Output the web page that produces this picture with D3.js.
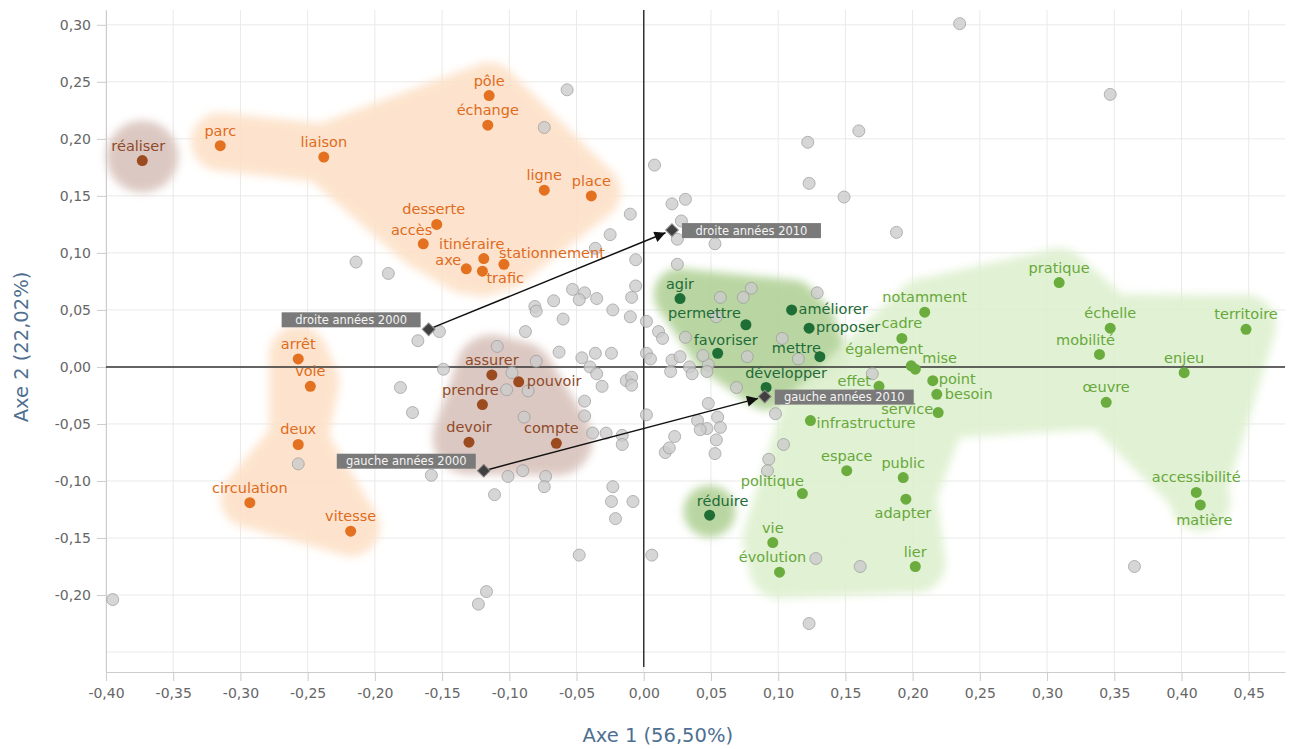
<!DOCTYPE html>
<html>
<head>
<meta charset="utf-8">
<script src="https://cdn.jsdelivr.net/npm/d3@7"></script>
<style>
body { margin: 0; background: #fff; }
svg text { font-family: "DejaVu Sans", sans-serif; }
</style>
</head>
<body>
<svg id="chart"></svg>
<script>
// ---- DONNEES ----
var xTicks = [-0.40, -0.35, -0.30, -0.25, -0.20, -0.15, -0.10, -0.05, 0.00, 0.05, 0.10, 0.15, 0.20, 0.25, 0.30, 0.35, 0.40, 0.45];
var yTicks = [-0.20, -0.15, -0.10, -0.05, 0.00, 0.05, 0.10, 0.15, 0.20, 0.25, 0.30];
var yGrid = [-0.25, -0.20, -0.15, -0.10, -0.05, 0.00, 0.05, 0.10, 0.15, 0.20, 0.25, 0.30];
var axe1Titre = 'Axe 1 (56,50%)';
var axe2Titre = 'Axe 2 (22,02%)';

// classe orange
var orangeMots = ['parc', 'liaison', 'pôle', 'échange', 'ligne', 'place', 'desserte', 'accès', 'itinéraire', 'stationnement', 'axe', 'trafic', 'arrêt', 'voie', 'deux', 'circulation', 'vitesse'];
var orangeX = [-0.315, -0.238, -0.115, -0.116, -0.074, -0.039, -0.154, -0.164, -0.119, -0.104, -0.132, -0.120, -0.257, -0.248, -0.257, -0.293, -0.218];
var orangeY = [0.194, 0.184, 0.238, 0.212, 0.155, 0.150, 0.125, 0.108, 0.095, 0.090, 0.086, 0.084, 0.007, -0.017, -0.068, -0.119, -0.144];

// classe marron
var marronMots = ['réaliser', 'assurer', 'pouvoir', 'prendre', 'devoir', 'compte'];
var marronX = [-0.373, -0.113, -0.093, -0.120, -0.130, -0.065];
var marronY = [0.181, -0.007, -0.013, -0.033, -0.066, -0.067];

// classe vert foncé
var vertFonceMots = ['agir', 'permettre', 'améliorer', 'proposer', 'favoriser', 'mettre', 'développer', 'réduire'];
var vertFonceX = [0.027, 0.076, 0.110, 0.123, 0.055, 0.131, 0.091, 0.049];
var vertFonceY = [0.060, 0.037, 0.050, 0.034, 0.012, 0.009, -0.018, -0.130];

// classe vert clair
var vertClairMots = ['notamment', 'cadre', 'également', 'mise', 'effet', 'point', 'besoin', 'service', 'infrastructure', 'pratique', 'échelle', 'mobilité', 'territoire', 'enjeu', 'œuvre', 'espace', 'politique', 'vie', 'évolution', 'public', 'adapter', 'lier', 'accessibilité', 'matière'];
var vertClairX = [0.209, 0.192, 0.199, 0.202, 0.175, 0.215, 0.218, 0.219, 0.124, 0.309, 0.347, 0.339, 0.448, 0.402, 0.344, 0.151, 0.118, 0.096, 0.101, 0.193, 0.195, 0.202, 0.411, 0.414];
var vertClairY = [0.048, 0.025, 0.001, -0.002, -0.017, -0.012, -0.024, -0.040, -0.047, 0.074, 0.034, 0.011, 0.033, -0.005, -0.031, -0.091, -0.111, -0.154, -0.180, -0.097, -0.116, -0.175, -0.110, -0.121];

// autres formes (gris, sans étiquette)
var grisX = [0.235, 0.347, 0.160, 0.149, 0.188, -0.057, -0.074, 0.008, 0.122, 0.123, 0.021, 0.031, 0.028, 0.025, 0.053, -0.010, -0.025, -0.036, -0.006, 0.025, -0.214, -0.190, -0.168, -0.152, -0.109, -0.149, -0.098, -0.181, -0.172, -0.102, -0.086, -0.053, -0.044, -0.048, -0.035, -0.067, -0.081, -0.080, -0.060, -0.023, -0.006, -0.009, -0.010, 0.002, -0.088, 0.011, 0.014, 0.031, 0.057, 0.074, 0.080, 0.129, 0.054, 0.103, 0.077, 0.115, -0.063, -0.046, -0.036, -0.024, 0.002, 0.005, 0.021, 0.027, 0.034, 0.048, 0.044, 0.020, 0.036, -0.040, -0.080, -0.035, -0.031, -0.013, -0.009, -0.009, 0.069, -0.044, -0.044, -0.089, 0.048, 0.002, 0.040, 0.055, 0.057, 0.047, 0.042, 0.054, -0.038, -0.028, -0.016, -0.016, 0.023, 0.016, 0.019, 0.053, 0.098, 0.104, 0.093, 0.092, -0.158, -0.101, -0.090, -0.073, -0.074, -0.111, -0.023, -0.024, -0.008, -0.021, -0.048, 0.006, 0.128, 0.161, -0.117, -0.123, 0.123, -0.395, -0.257, 0.365, 0.170, 0.047];
var grisY = [0.301, 0.239, 0.207, 0.149, 0.118, 0.243, 0.210, 0.177, 0.197, 0.161, 0.143, 0.147, 0.128, 0.112, 0.108, 0.134, 0.116, 0.104, 0.094, 0.090, 0.092, 0.082, 0.023, 0.031, 0.018, -0.002, -0.005, -0.018, -0.040, -0.020, -0.021, 0.068, 0.065, 0.059, 0.060, 0.058, 0.053, 0.049, 0.042, 0.050, 0.071, 0.061, 0.044, 0.040, 0.031, 0.031, 0.025, 0.026, 0.061, 0.061, 0.069, 0.065, 0.044, 0.025, 0.009, 0.007, 0.013, 0.008, 0.012, 0.012, 0.012, 0.007, 0.006, 0.009, 0.000, 0.002, 0.010, -0.004, -0.006, 0.000, 0.005, -0.006, -0.017, -0.012, -0.009, -0.016, -0.018, -0.030, -0.043, -0.044, -0.032, -0.042, -0.047, -0.044, -0.053, -0.054, -0.055, -0.064, -0.058, -0.058, -0.060, -0.068, -0.061, -0.075, -0.071, -0.076, -0.041, -0.068, -0.081, -0.091, -0.095, -0.096, -0.091, -0.096, -0.105, -0.112, -0.105, -0.118, -0.118, -0.133, -0.165, -0.165, -0.168, -0.175, -0.197, -0.208, -0.225, -0.204, -0.085, -0.175, -0.006, -0.004];

// variables supplémentaires
var suppLabels = ['droite années 2000', 'droite années 2010', 'gauche années 2000', 'gauche années 2010'];
var suppX = [-0.160, 0.021, -0.119, 0.090];
var suppY = [0.033, 0.120, -0.091, -0.026];
var fleches = [['droite années 2000', 'droite années 2010'], ['gauche années 2000', 'gauche années 2010']];

// ---- STYLE / MISE EN PAGE ----
var W = 1291, H = 749;
// alpha : longueur max d'un lien de la zone, ky : poids du vertical dans cette longueur
var classes = [
    { mots: orangeMots, xs: orangeX, ys: orangeY, dot: '#e3711f', text: '#e06b1c', hull: '#fde1c8', alpha: 186, ky: 1.3, pad: 29 },
    { mots: marronMots, xs: marronX, ys: marronY, dot: '#9c4b20', text: '#904a2a', hull: '#d9c3bc', alpha: 140, ky: 1, pad: 36 },
    { mots: vertFonceMots, xs: vertFonceX, ys: vertFonceY, dot: '#1f6e36', text: '#1f6b37', hull: '#b2d298', alpha: 120, ky: 1, pad: 26 },
    { mots: vertClairMots, xs: vertClairX, ys: vertClairY, dot: '#6aac3e', text: '#67a83b', hull: '#def0cf', alpha: 172, ky: 1, pad: 30 }
];

// position des étiquettes : [ancre, dx, dy] (par défaut centrée au-dessus)
var labelPos = {
    'réaliser': ['middle', -4, -10], 'desserte': ['middle', -3, -10],
    'accès': ['end', 9, -9], 'itinéraire': ['middle', -12, -10], 'stationnement': ['start', -5, -6],
    'axe': ['end', -5, -4], 'trafic': ['start', 4, 12],
    'pouvoir': ['start', 8, 4], 'prendre': ['middle', -12, -10], 'compte': ['middle', -5, -10],
    'permettre': ['end', -5, -7], 'améliorer': ['start', 7, 4], 'proposer': ['start', 7, 4],
    'favoriser': ['middle', 8, -8], 'mettre': ['end', 1, -4], 'développer': ['middle', 20, -9],
    'réduire': ['middle', 13, -9], 'également': ['middle', -27, -12], 'mise': ['start', 7, -6],
    'effet': ['end', -8, 0], 'point': ['start', 6, 3], 'besoin': ['start', 8, 5],
    'service': ['end', -5, 1], 'infrastructure': ['start', 6, 7], 'mobilité': ['middle', -14, -9],
    'politique': ['middle', -30, -8], 'évolution': ['middle', -7, -10],
    'adapter': ['middle', -3, 19], 'matière': ['middle', 4, 20]
};
var suppSide = { 'droite années 2000': 'left', 'droite années 2010': 'right', 'gauche années 2000': 'left', 'gauche années 2010': 'right' };

var fr = d3.formatLocale({ decimal: ',', thousands: ' ', grouping: [3], currency: ['', ' €'], minus: '-' });
var fmt = fr.format('.2f');

var svg = d3.select('#chart').attr('width', W).attr('height', H);
svg.append('rect').attr('width', W).attr('height', H).attr('fill', '#fff');

var x = d3.scaleLinear().domain([-0.40, 0.477]).range([106, 1285]);
var y = d3.scaleLinear().domain([-0.2675, 0.313]).range([672, 10]);

var defs = svg.append('defs');
defs.append('filter').attr('id', 'flou').attr('x', '-20%').attr('y', '-20%').attr('width', '140%').attr('height', '140%')
    .append('feGaussianBlur').attr('stdDeviation', 4.5);
defs.append('marker').attr('id', 'fleche').attr('viewBox', '0 -5 10 10')
    .attr('refX', 10).attr('refY', 0).attr('markerWidth', 13).attr('markerHeight', 11)
    .attr('markerUnits', 'userSpaceOnUse').attr('orient', 'auto')
    .append('path').attr('d', 'M0,-5L10,0L0,5Z').attr('fill', '#111');

// GRILLE
var grille = svg.append('g');
grille.selectAll('.gx').data(xTicks).enter().append('line')
    .attr('x1', function (d) { return x(d); }).attr('x2', function (d) { return x(d); })
    .attr('y1', 10).attr('y2', 672).attr('stroke', '#e9e9e9');
grille.selectAll('.gy').data(yGrid).enter().append('line')
    .attr('x1', 106).attr('x2', 1285)
    .attr('y1', function (d) { return y(d); }).attr('y2', function (d) { return y(d); })
    .attr('stroke', '#e9e9e9');

// ZONES (enveloppes floues autour de chaque classe)
function dist(a, b) { return Math.hypot(a[0] - b[0], a[1] - b[1]); }
var zones = svg.append('g');
classes.forEach(function (c) {
    var g = zones.append('g').attr('filter', 'url(#flou)').attr('opacity', 0.9);
    var pix = c.xs.map(function (v, i) { return [x(v), y(c.ys[i]) - 4]; });
    pix.forEach(function (p) {
        g.append('circle').attr('cx', p[0]).attr('cy', p[1]).attr('r', c.pad).attr('fill', c.hull);
    });
    var del = d3.Delaunay.from(pix);
    var t = del.triangles;
    for (var i = 0; i < t.length; i += 3) {
        var a = pix[t[i]], b = pix[t[i + 1]], e = pix[t[i + 2]];
        var cotes = [[a, b], [b, e], [e, a]];
        var ok = true;
        cotes.forEach(function (s) {
            var l = Math.hypot(s[0][0] - s[1][0], c.ky * (s[0][1] - s[1][1]));
            if (l < c.alpha) {
                g.append('line').attr('x1', s[0][0]).attr('y1', s[0][1]).attr('x2', s[1][0]).attr('y2', s[1][1])
                    .attr('stroke', c.hull).attr('stroke-width', c.pad * 2).attr('stroke-linecap', 'round');
            } else { ok = false; }
        });
        if (ok) {
            g.append('path').attr('d', 'M' + a + 'L' + b + 'L' + e + 'Z').attr('fill', c.hull);
        }
    }
});

// AXES
var axeX = svg.append('g').attr('transform', 'translate(0,672)')
    .call(d3.axisBottom(x).tickValues(xTicks).tickFormat(fmt).tickSize(9).tickSizeOuter(0).tickPadding(7));
var axeY = svg.append('g').attr('transform', 'translate(106,0)')
    .call(d3.axisLeft(y).tickValues(yTicks).tickFormat(fmt).tickSize(9).tickSizeOuter(0).tickPadding(6));
[axeX, axeY].forEach(function (a) {
    a.select('.domain').attr('stroke', '#cccccc');
    a.selectAll('.tick line').attr('stroke', '#cccccc');
    a.selectAll('.tick text').attr('fill', '#666').attr('font-size', '14px')
        .attr('font-family', '"DejaVu Sans", sans-serif');
});

// AXES ZERO
svg.append('line').attr('x1', 106).attr('x2', 1285).attr('y1', y(0)).attr('y2', y(0))
    .attr('stroke', '#333').attr('stroke-width', 1.5);
svg.append('line').attr('x1', x(0)).attr('x2', x(0)).attr('y1', 10).attr('y2', 667)
    .attr('stroke', '#333').attr('stroke-width', 1.5);

// TITRES
svg.append('text').attr('x', x(0) + 14).attr('y', 742).attr('text-anchor', 'middle')
    .attr('font-size', '19.5px').attr('fill', '#4f6f91').text(axe1Titre);
svg.append('text').attr('transform', 'translate(28,' + 347 + ') rotate(-90)').attr('text-anchor', 'middle')
    .attr('font-size', '19.5px').attr('fill', '#4f6f91').text(axe2Titre);

// POINTS GRIS
svg.append('g').selectAll('circle').data(grisX).enter().append('circle')
    .attr('cx', function (d) { return x(d); })
    .attr('cy', function (d, i) { return y(grisY[i]); })
    .attr('r', 6).attr('fill', '#cccccc').attr('stroke', '#9d9d9d').attr('stroke-width', 1)
    .attr('opacity', 0.8);

// POINTS DES CLASSES + ETIQUETTES
var etiquettes = svg.append('g').attr('font-size', '14.5px');
classes.forEach(function (c) {
    svg.append('g').selectAll('circle').data(c.mots).enter().append('circle')
        .attr('cx', function (d, i) { return x(c.xs[i]); })
        .attr('cy', function (d, i) { return y(c.ys[i]); })
        .attr('r', 5.5).attr('fill', c.dot);
    c.mots.forEach(function (m, i) {
        var p = labelPos[m] || ['middle', 0, -10];
        etiquettes.append('text')
            .attr('x', x(c.xs[i]) + p[1]).attr('y', y(c.ys[i]) + p[2])
            .attr('text-anchor', p[0]).attr('fill', c.text).text(m);
    });
});

// FLECHES
function pos(lbl) { var i = suppLabels.indexOf(lbl); return [x(suppX[i]), y(suppY[i])]; }
fleches.forEach(function (f) {
    var a = pos(f[0]), b = pos(f[1]);
    var d = dist(a, b), ux = (b[0] - a[0]) / d, uy = (b[1] - a[1]) / d;
    svg.append('line')
        .attr('x1', a[0] + ux * 5).attr('y1', a[1] + uy * 5)
        .attr('x2', b[0] - ux * 7).attr('y2', b[1] - uy * 7)
        .attr('stroke', '#111').attr('stroke-width', 1.5).attr('marker-end', 'url(#fleche)');
});

// VARIABLES SUPPLEMENTAIRES
suppLabels.forEach(function (l, i) {
    var cx = x(suppX[i]), cy = y(suppY[i]);
    svg.append('rect').attr('x', cx - 4.5).attr('y', cy - 4.5).attr('width', 9).attr('height', 9)
        .attr('transform', 'rotate(45,' + cx + ',' + cy + ')')
        .attr('fill', '#404040').attr('stroke', '#8c8c8c').attr('stroke-width', 1);
    var bw = 139, bh = 15, bx, by;
    if (suppSide[l] === 'left') { bx = cx - 8 - bw; by = cy - 17; }
    else { bx = cx + 10; by = cy - 7; }
    svg.append('rect').attr('x', bx).attr('y', by).attr('width', bw).attr('height', bh).attr('fill', '#7a7a7a');
    svg.append('text').attr('x', bx + bw / 2).attr('y', by + 11.5).attr('text-anchor', 'middle')
        .attr('font-size', '11.5px').attr('fill', '#f4f4f4').text(l);
});
</script>
</body>
</html>
